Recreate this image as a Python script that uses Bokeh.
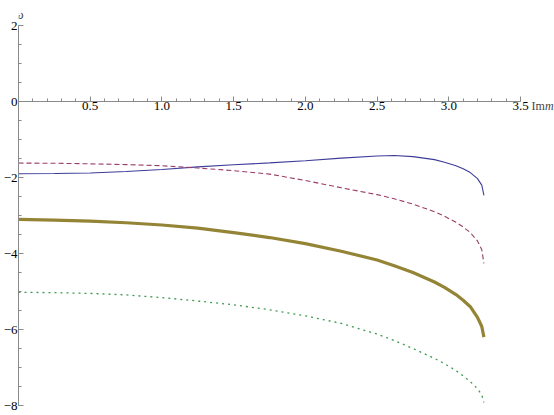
from bokeh.plotting import figure
from bokeh.models import FixedTicker, Label, LinearAxis, Range1d
from bokeh.embed import file_html
from bokeh.resources import INLINE

# Im m values shared by all four branches
im_m = [0.0, 0.25, 0.5, 0.75, 1.0, 1.25, 1.5, 1.75, 2.0, 2.25, 2.5, 2.62,
        2.75, 2.9, 2.97, 3.05, 3.1, 3.15, 3.2, 3.23, 3.245]

omega_blue = [-1.90, -1.895, -1.88, -1.84, -1.79, -1.72, -1.665, -1.615, -1.56,
              -1.49, -1.435, -1.42, -1.45, -1.53, -1.60, -1.69, -1.77, -1.87,
              -2.03, -2.20, -2.47]
omega_red = [-1.62, -1.625, -1.64, -1.66, -1.69, -1.75, -1.82, -1.91, -2.08,
             -2.27, -2.45, -2.56, -2.70, -2.90, -3.02, -3.18, -3.30, -3.45,
             -3.67, -3.90, -4.26]
omega_olive = [-3.10, -3.12, -3.15, -3.19, -3.25, -3.33, -3.45, -3.58, -3.74,
               -3.94, -4.17, -4.32, -4.50, -4.75, -4.89, -5.08, -5.23, -5.40,
               -5.68, -5.92, -6.20]
omega_green = [-5.02, -5.03, -5.05, -5.09, -5.16, -5.25, -5.35, -5.48, -5.64,
               -5.84, -6.12, -6.29, -6.50, -6.76, -6.90, -7.08, -7.22, -7.37,
               -7.56, -7.72, -7.92]

x_major = [0.5, 1.0, 1.5, 2.0, 2.5, 3.0, 3.5]
x_minor = [round(0.1 * i, 1) for i in range(1, 36)]
x_labels = ["0.5", "1.0", "1.5", "2.0", "2.5", "3.0", "3.5"]
y_major = [-8, -6, -4, -2, 0, 2]
y_minor = [-8 + 0.5 * i for i in range(21)]
y_labels = ["\u22128", "\u22126", "\u22124", "\u22122", "0", "2"]

FONT = "Liberation Serif"
AXIS_COLOR = "#8a8a8a"

p = figure(width=554, height=415, output_backend="svg", toolbar_location=None,
           x_range=Range1d(0, 3.737), y_range=Range1d(-8.263, 2.658),
           x_axis_location=None, y_axis_location=None,
           min_border_left=17, min_border_right=0,
           min_border_top=0, min_border_bottom=0)
p.outline_line_color = None
p.grid.visible = False
p.background_fill_color = "white"

xaxis = LinearAxis(ticker=FixedTicker(ticks=x_major, minor_ticks=x_minor),
                   fixed_location=0, bounds=(0, 3.5))
xaxis.major_label_overrides = {t: l for t, l in zip(x_major, x_labels)}
xaxis.major_label_standoff = 0
yaxis = LinearAxis(ticker=FixedTicker(ticks=y_major, minor_ticks=y_minor),
                   bounds=(-8, 2))
yaxis.major_label_overrides = {t: l for t, l in zip(y_major, y_labels)}
yaxis.major_label_standoff = 1
for ax in (xaxis, yaxis):
    ax.axis_line_color = AXIS_COLOR
    ax.major_tick_line_color = AXIS_COLOR
    ax.minor_tick_line_color = AXIS_COLOR
    ax.major_tick_in = 5
    ax.major_tick_out = 0
    ax.minor_tick_in = 3
    ax.minor_tick_out = 0
    ax.major_label_text_font = FONT
    ax.major_label_text_font_size = "13px"
    ax.major_label_text_color = "black"
p.add_layout(xaxis, "below")
p.add_layout(yaxis, "left")

p.line(im_m, omega_blue, line_color="#3d3d99", line_width=1.1)
p.line(im_m, omega_red, line_color="#993d66", line_width=1.1, line_dash="5 3")
p.line(im_m, omega_olive, line_color="#948436", line_width=3.2)
p.line(im_m, omega_green, line_color="#3d9951", line_width=1.3, line_dash="2 4")

p.add_layout(Label(x=0, y=2, x_offset=-4, y_offset=11, text="\u03c9",
                   text_font=FONT, text_font_style="italic",
                   text_font_size="13px", text_baseline="alphabetic"))
p.add_layout(Label(x=3.5, y=0, x_offset=11, y_offset=-4, text="Im",
                   text_font=FONT, text_font_size="12px",
                   text_baseline="alphabetic"))
p.add_layout(Label(x=3.5, y=0, x_offset=24.5, y_offset=-4, text="m",
                   text_font=FONT, text_font_style="italic",
                   text_font_size="12px", text_baseline="alphabetic"))

open("out.html", "w").write(file_html(p, INLINE))
